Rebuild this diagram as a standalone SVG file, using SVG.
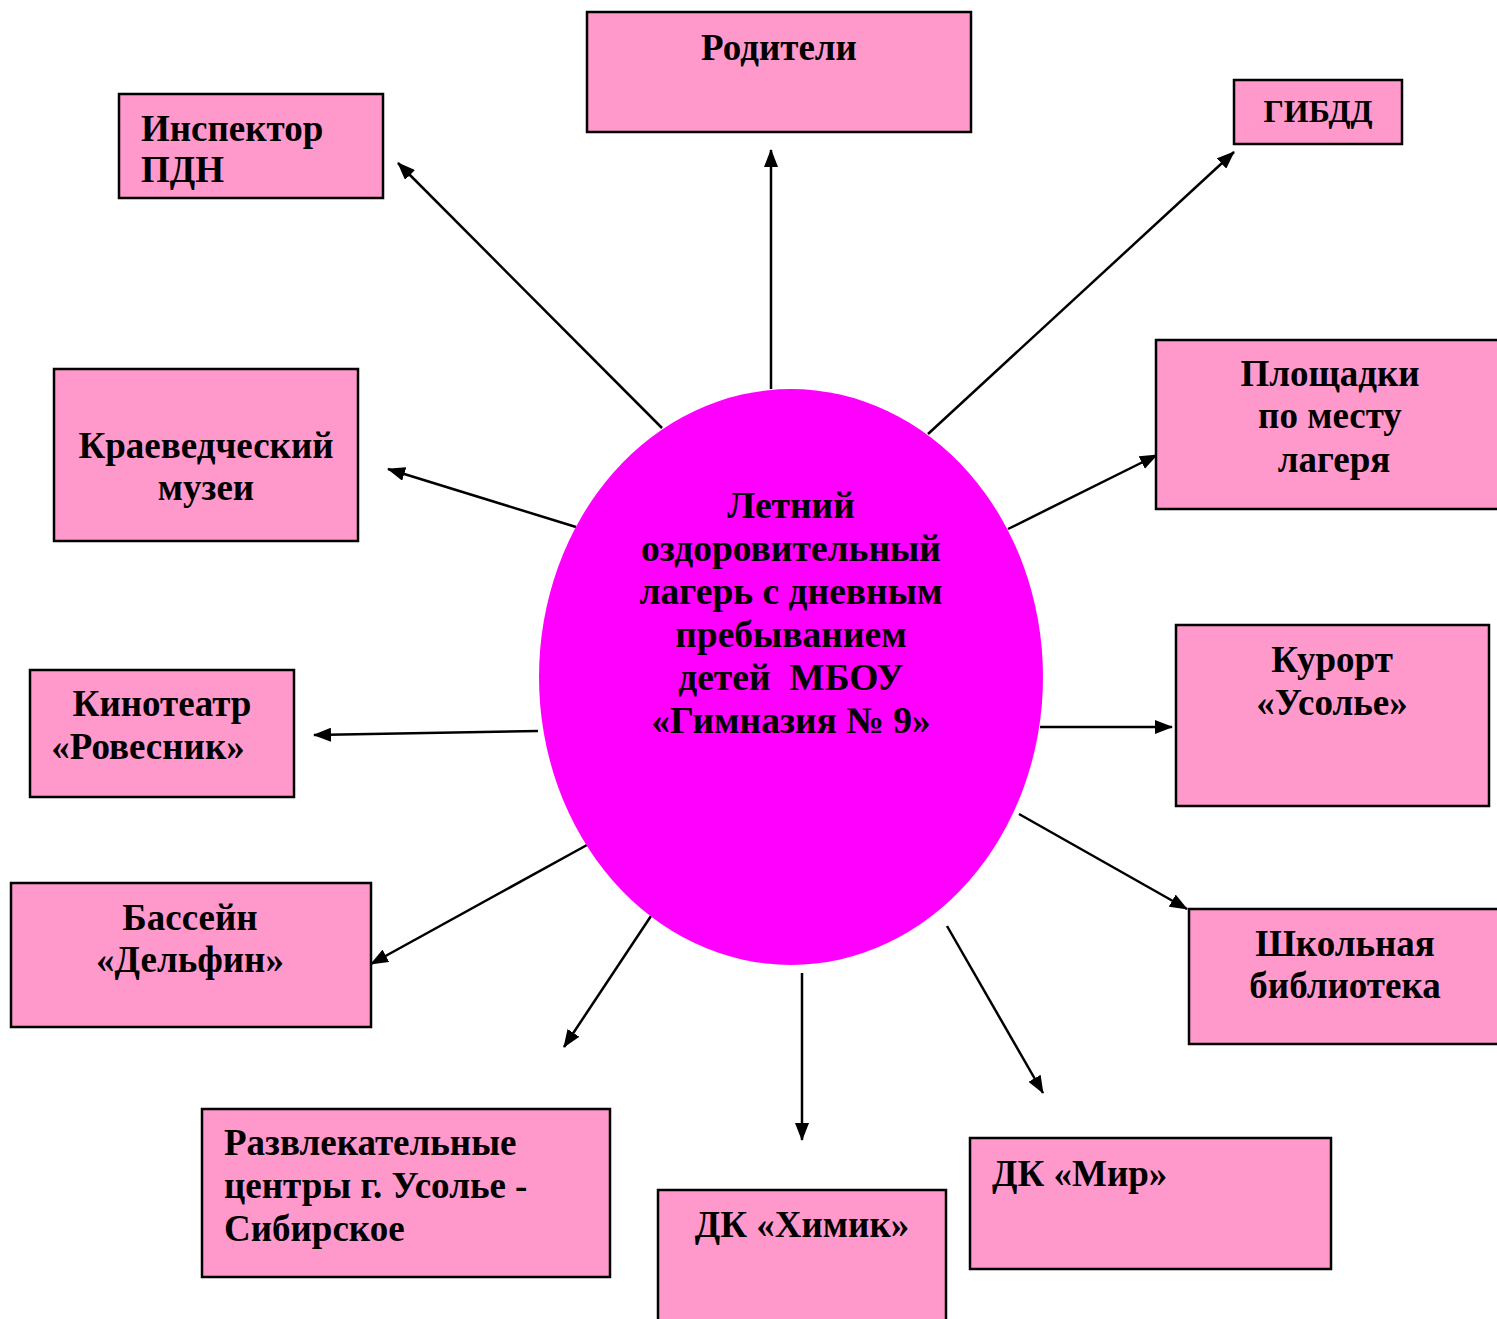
<svg xmlns="http://www.w3.org/2000/svg" width="1497" height="1319" viewBox="0 0 1497 1319">
<style>
.box{fill:#FF99CC;stroke:#000;stroke-width:2.5}
.t{font-family:"Liberation Serif","Times New Roman",serif;font-weight:bold;font-size:37px;fill:#000}
.c{text-anchor:middle}
.ln{stroke:#000;stroke-width:2.5;fill:none;marker-end:url(#ah)}
</style>
<defs>
<marker id="ah" markerUnits="userSpaceOnUse" markerWidth="18" markerHeight="14" refX="17" refY="7" orient="auto">
<path d="M0,0 L18,7 L0,14 Z" fill="#000"/>
</marker>
</defs>
<rect width="1497" height="1319" fill="#fff"/>
<g id="connectors">
<line class="ln" x1="771" y1="389" x2="771" y2="150"/>
<line class="ln" x1="662" y1="428" x2="398" y2="163"/>
<line class="ln" x1="928" y1="434" x2="1234" y2="152"/>
<line class="ln" x1="1008" y1="529" x2="1157" y2="455"/>
<line class="ln" x1="576" y1="527" x2="388" y2="469"/>
<line class="ln" x1="538" y1="731" x2="314" y2="735"/>
<line class="ln" x1="1040" y1="727" x2="1172" y2="727"/>
<line class="ln" x1="587" y1="845" x2="371" y2="964"/>
<line class="ln" x1="1019" y1="814" x2="1187" y2="909"/>
<line class="ln" x1="651" y1="916" x2="564" y2="1047"/>
<line class="ln" x1="802" y1="973" x2="802" y2="1140"/>
<line class="ln" x1="947" y1="926" x2="1043" y2="1093"/>
</g>
<g id="center">
<ellipse cx="791" cy="677" rx="252" ry="288" fill="#FF00FF"/>
<text class="t c" style="font-size:37.5px" xml:space="preserve"><tspan x="791" y="518">Летний</tspan><tspan x="791" y="561">оздоровительный</tspan><tspan x="791" y="604">лагерь с дневным</tspan><tspan x="791" y="647">пребыванием</tspan><tspan x="791" y="690">детей  МБОУ</tspan><tspan x="791" y="733">«Гимназия № 9»</tspan></text>
</g>
<g id="roditeli">
<rect class="box" x="587" y="12" width="384" height="120"/>
<text class="t c" x="779" y="60">Родители</text>
</g>
<g id="inspektor">
<rect class="box" x="119" y="94" width="264" height="104"/>
<text class="t" x="141" y="141">Инспектор</text>
<text class="t" x="141" y="182">ПДН</text>
</g>
<g id="gibdd">
<rect class="box" x="1234" y="80" width="168" height="64"/>
<text class="t c" style="font-size:32px" x="1318" y="122">ГИБДД</text>
</g>
<g id="ploshchadki">
<rect class="box" x="1156" y="340" width="345" height="169"/>
<text class="t c" x="1330" y="386">Площадки</text>
<text class="t c" x="1330" y="428">по месту</text>
<text class="t c" x="1334" y="472">лагеря</text>
</g>
<g id="kraeved">
<rect class="box" x="54" y="369" width="304" height="172"/>
<text class="t c" x="206" y="458">Краеведческий</text>
<text class="t c" x="206" y="500">музеи</text>
</g>
<g id="kinoteatr">
<rect class="box" x="30" y="670" width="264" height="127"/>
<text class="t c" x="162" y="716">Кинотеатр</text>
<text class="t c" x="148" y="759">«Ровесник»</text>
</g>
<g id="kurort">
<rect class="box" x="1176" y="625" width="313" height="181"/>
<text class="t c" x="1332" y="672">Курорт</text>
<text class="t c" x="1332" y="715">«Усолье»</text>
</g>
<g id="bassein">
<rect class="box" x="11" y="883" width="360" height="144"/>
<text class="t c" x="190" y="930">Бассейн</text>
<text class="t c" x="190" y="972">«Дельфин»</text>
</g>
<g id="biblioteka">
<rect class="box" x="1189" y="909" width="312" height="135"/>
<text class="t c" x="1345" y="956">Школьная</text>
<text class="t c" x="1345" y="998">библиотека</text>
</g>
<g id="razvlek">
<rect class="box" x="202" y="1109" width="408" height="168"/>
<text class="t" x="224" y="1155">Развлекательные</text>
<text class="t" x="224" y="1198">центры г. Усолье -</text>
<text class="t" x="224" y="1241">Сибирское</text>
</g>
<g id="khimik">
<rect class="box" x="658" y="1190" width="288" height="135"/>
<text class="t c" x="802" y="1237">ДК «Химик»</text>
</g>
<g id="mir">
<rect class="box" x="970" y="1138" width="361" height="131"/>
<text class="t" x="992" y="1186">ДК «Мир»</text>
</g>
</svg>
